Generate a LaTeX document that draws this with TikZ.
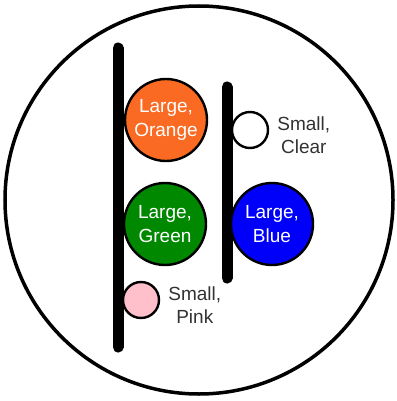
\documentclass[tikz,border=0pt]{standalone}
\usepackage{fontspec}
\setmainfont{Liberation Sans}
\usetikzlibrary{positioning}
\definecolor{ballorange}{RGB}{250,106,34}
\definecolor{ballgreen}{RGB}{0,136,0}
\definecolor{ballblue}{RGB}{0,0,250}
\definecolor{ballpink}{RGB}{255,192,203}
\definecolor{labelgrey}{RGB}{50,50,50}
\begin{document}
\begin{tikzpicture}[
    x=1pt, y=-1pt,
    every node/.style={font=\fontsize{19}{23.5}\selectfont, align=center},
    large/.style={circle, draw, line width=2.4pt, minimum size=82pt, inner sep=0pt, text=white},
    small/.style={circle, draw, line width=2.4pt, minimum size=36pt, inner sep=0pt},
    tag/.style={text=labelgrey, inner sep=0pt},
    bar/.style={line width=11pt, line cap=round}
]
\useasboundingbox (0,0) rectangle (396,401);

\node[circle, draw, line width=3.5pt, minimum size=388pt, inner sep=0pt] (dish) at (199,200) {};

% the two rods
\coordinate (lefttop) at (118,48);
\coordinate (leftbottom) at (118,347);
\coordinate (righttop) at (227,87);
\coordinate (rightbottom) at (227,278);
\draw[bar] (lefttop) -- (leftbottom);
\draw[bar] (righttop) -- (rightbottom);

\node[large, fill=ballorange] (orange) at (166,120) {Large,\\Orange};
\node[large, fill=ballgreen] (green) at (165,224) {Large,\\Green};
\node[large, fill=ballblue] (blue) at (272,224) {Large,\\Blue};

\node[small, fill=white] (clear) at (250,130) {};
\node[small, fill=ballpink] (pink) at (141,300) {};

\node[tag, right=8pt of clear, yshift=-5pt] (clearlabel) {Small,\\Clear};
\node[tag, right=8pt of pink, yshift=-5pt] (pinklabel) {Small,\\Pink};

\end{tikzpicture}
\end{document}
